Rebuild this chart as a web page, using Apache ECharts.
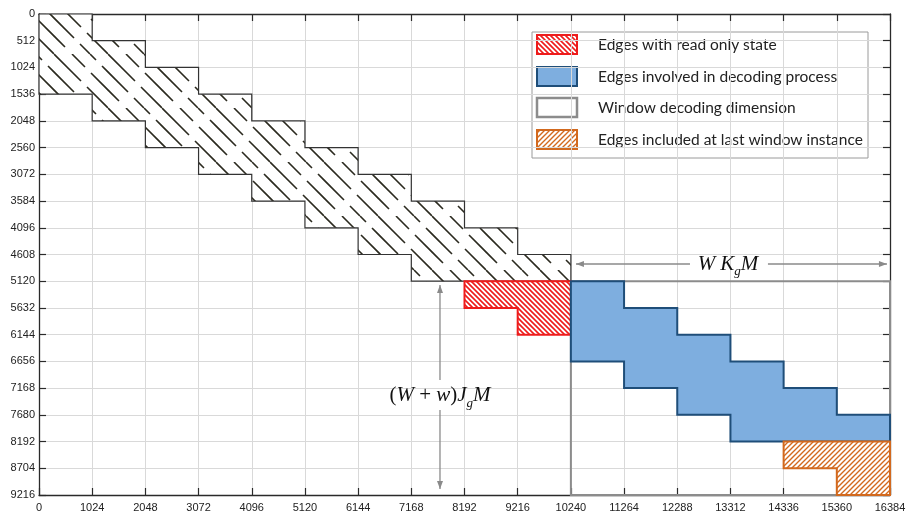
<!DOCTYPE html>
<html>
<head>
<meta charset="utf-8">
<script src="https://cdn.jsdelivr.net/npm/echarts@6/dist/echarts.min.js"></script>
<style>
  html, body { margin: 0; padding: 0; background: #fff; }
  #chart { width: 907px; height: 515px; }
</style>
</head>
<body>
<div id="chart"></div>
<script>
// Axis tick values
const xTicks = [0, 1024, 2048, 3072, 4096, 5120, 6144, 7168, 8192, 9216, 10240, 11264, 12288, 13312, 14336, 15360, 16384];
const yTicks = [0, 512, 1024, 1536, 2048, 2560, 3072, 3584, 4096, 4608, 5120, 5632, 6144, 6656, 7168, 7680, 8192, 8704, 9216];

// Each region is a staircase of 1024-wide columns: column index, top row, bottom row
const bandCols   = [0, 1, 2, 3, 4, 5, 6, 7, 8, 9];
const bandTop    = [0, 512, 1024, 1536, 2048, 2560, 3072, 3584, 4096, 4608];
const bandBottom = [1536, 2048, 2560, 3072, 3584, 4096, 4608, 5120, 5120, 5120];

const readOnlyCols   = [8, 9];
const readOnlyTop    = [5120, 5120];
const readOnlyBottom = [5632, 6144];

const decodeCols   = [10, 11, 12, 13, 14, 15];
const decodeTop    = [5120, 5632, 6144, 6656, 7168, 7680];
const decodeBottom = [6656, 7168, 7680, 8192, 8192, 8192];

const lastCols   = [14, 15];
const lastTop    = [8192, 8192];
const lastBottom = [8704, 9216];

// Window decoding dimension: [x0, x1], [y0, y1]
const windowX = [10240, 16384];
const windowY = [5120, 9216];

// Dimension arrows
const widthArrowY = 4790;
const widthArrowX = [10338, 12533, 14034, 16325];   // tip, gap start, gap end, tip
const widthLabelX = 13265;
const heightArrowX = 7720;
const heightArrowY = [5193, 7013, 7588, 9101];       // tip, gap start, gap end, tip
const heightLabelY = 7306;

const legendNames = [
  'Edges with read only state',
  'Edges involved in decoding process',
  'Window decoding dimension',
  'Edges included at last window instance'
];

const colW = xTicks[1] - xTicks[0];

// ---- fill patterns ----
function lineHatch(step, color, width, dir) {
  const c = document.createElement('canvas');
  c.width = step * 2; c.height = step * 2;
  const g = c.getContext('2d');
  g.fillStyle = '#fff';
  g.fillRect(0, 0, c.width, c.height);
  g.strokeStyle = color; g.lineWidth = width;
  const S = step * 2;
  g.beginPath();
  for (let k = -2; k <= 2; k++) {
    const o = k * step;
    if (dir === '\\') { g.moveTo(o - step, -step); g.lineTo(o + S + step, S + step); }
    else { g.moveTo(o - step, S + step); g.lineTo(o + S + step, -step); }
  }
  g.stroke();
  return c;
}

function dashedHatch() {
  const S = 54;
  const c = document.createElement('canvas');
  c.width = S; c.height = S;
  const g = c.getContext('2d');
  g.fillStyle = '#fff';
  g.fillRect(0, 0, S, S);
  g.strokeStyle = '#2b2a1f'; g.lineWidth = 1.6;
  const lines = [
    { off: 0,  dashes: [[0, 27], [33, 54]] },
    { off: 18, dashes: [[0, 13], [19, 47]] },
    { off: 36, dashes: [[0, 6], [12, 38], [44, 54]] }
  ];
  g.beginPath();
  lines.forEach(l => {
    l.dashes.forEach(([a, b]) => {
      [-S, 0, S].forEach(sh => {
        g.moveTo(l.off + a + sh, a);
        g.lineTo(l.off + b + sh, b);
      });
    });
  });
  g.stroke();
  return c;
}

const bandFill = { image: dashedHatch(), repeat: 'repeat' };
const redFill = { image: lineHatch(5, '#ee1c1c', 1.6, '\\'), repeat: 'repeat' };
const orangeFill = { image: lineHatch(5, '#d2691e', 1.4, '/'), repeat: 'repeat' };
const blueFill = '#7eaedf';

// ---- staircase polygons built from column data ----
function stairPoints(api, cols, top, bottom) {
  const pts = [];
  cols.forEach((c, i) => {
    pts.push(api.coord([c * colW, top[i]]));
    pts.push(api.coord([(c + 1) * colW, top[i]]));
  });
  for (let i = cols.length - 1; i >= 0; i--) {
    pts.push(api.coord([(cols[i] + 1) * colW, bottom[i]]));
    pts.push(api.coord([cols[i] * colW, bottom[i]]));
  }
  return pts;
}

function stairSeries(name, cols, top, bottom, style, z) {
  return {
    name, type: 'custom', coordinateSystem: 'cartesian2d', z,
    silent: true, clip: false,
    data: [[cols[0] * colW, top[0]]],
    renderItem: (params, api) => ({
      type: 'polygon',
      shape: { points: stairPoints(api, cols, top, bottom) },
      style
    })
  };
}

// ---- math labels ----
const measureCtx = document.createElement('canvas').getContext('2d');
function mathLabel(cx, cy, parts, size) {
  const subSize = Math.round(size * 0.62);
  const items = parts.map(p => {
    const fs = p.sub ? subSize : size;
    const font = (p.it ? 'italic ' : '') + fs + 'px "Liberation Serif"';
    measureCtx.font = font;
    return { p, fs, font, w: measureCtx.measureText(p.t).width + (p.gap || 0) };
  });
  const total = items.reduce((s, it) => s + it.w, 0);
  let x = cx - total / 2;
  return items.map(it => {
    const el = {
      type: 'text',
      x, y: cy + (it.p.sub ? size * 0.38 : 0),
      style: {
        text: it.p.t, fill: '#111', fontSize: it.fs,
        fontFamily: 'Liberation Serif', fontStyle: it.p.it ? 'italic' : 'normal',
        verticalAlign: 'middle', align: 'left'
      }
    };
    x += it.w;
    return el;
  });
}

function arrowHead(tip, dirX, dirY) {
  const L = 8, H = 3;
  const bx = tip[0] - dirX * L, by = tip[1] - dirY * L;
  return {
    type: 'polygon',
    shape: { points: [tip, [bx - dirY * H, by + dirX * H], [bx + dirY * H, by - dirX * H]] },
    style: { fill: '#8a8a8a' }
  };
}

const annotationSeries = {
  name: 'dimensions', type: 'custom', coordinateSystem: 'cartesian2d', z: 10,
  silent: true, clip: false,
  data: [[widthLabelX, widthArrowY]],
  renderItem: (params, api) => {
    const line = { stroke: '#8a8a8a', lineWidth: 1.3 };
    const h = widthArrowX.map(v => api.coord([v, widthArrowY]));
    const v = heightArrowY.map(y => api.coord([heightArrowX, y]));
    const wl = api.coord([widthLabelX, widthArrowY]);
    const hl = api.coord([heightArrowX, heightLabelY]);
    return {
      type: 'group',
      children: [
        { type: 'line', shape: { x1: h[0][0], y1: h[0][1], x2: h[1][0], y2: h[1][1] }, style: line },
        { type: 'line', shape: { x1: h[2][0], y1: h[2][1], x2: h[3][0], y2: h[3][1] }, style: line },
        arrowHead(h[0], -1, 0), arrowHead(h[3], 1, 0),
        { type: 'line', shape: { x1: v[0][0], y1: v[0][1], x2: v[1][0], y2: v[1][1] }, style: line },
        { type: 'line', shape: { x1: v[2][0], y1: v[2][1], x2: v[3][0], y2: v[3][1] }, style: line },
        arrowHead(v[0], 0, -1), arrowHead(v[3], 0, 1),
        ...mathLabel(wl[0], wl[1], [
          { t: 'W', it: true, gap: 5 }, { t: 'K', it: true }, { t: 'g', it: true, sub: true }, { t: 'M', it: true }
        ], 21),
        ...mathLabel(hl[0], hl[1], [
          { t: '(' }, { t: 'W', it: true }, { t: ' + ' }, { t: 'w', it: true }, { t: ')' },
          { t: 'J', it: true }, { t: 'g', it: true, sub: true }, { t: 'M', it: true }
        ], 21)
      ]
    };
  }
};

const windowSeries = {
  name: legendNames[2], type: 'custom', coordinateSystem: 'cartesian2d', z: 3,
  silent: true, clip: false,
  data: [[windowX[0], windowY[0]]],
  renderItem: (params, api) => {
    const a = api.coord([windowX[0], windowY[0]]);
    const b = api.coord([windowX[1], windowY[1]]);
    return {
      type: 'rect',
      shape: { x: a[0], y: a[1], width: b[0] - a[0], height: b[1] - a[1] },
      style: { fill: 'none', stroke: '#8c8c8c', lineWidth: 2 }
    };
  }
};

// ---- axes ----
const axisColor = '#2a2a2a';
const plainNumber = v => String(v);
function xAxisDef(pos, labels) {
  return {
    type: 'value', position: pos,
    min: xTicks[0], max: xTicks[xTicks.length - 1], interval: colW,
    axisLine: { show: true, onZero: false, lineStyle: { color: axisColor, width: 1.3 } },
    axisTick: { show: true, inside: true, length: 7, lineStyle: { color: axisColor, width: 1.2 } },
    axisLabel: { show: labels, color: '#222', fontSize: 11, fontFamily: 'Liberation Sans', margin: 7, formatter: plainNumber },
    splitLine: { show: labels, lineStyle: { color: '#d9d9d9', width: 1 } }
  };
}
function yAxisDef(pos, labels) {
  return {
    type: 'value', position: pos, inverse: true,
    min: yTicks[0], max: yTicks[yTicks.length - 1], interval: yTicks[1] - yTicks[0],
    axisLine: { show: true, onZero: false, lineStyle: { color: axisColor, width: 1.3 } },
    axisTick: { show: true, inside: true, length: 7, lineStyle: { color: axisColor, width: 1.2 } },
    axisLabel: { show: labels, color: '#222', fontSize: 11, fontFamily: 'Liberation Sans', margin: 4, formatter: plainNumber },
    splitLine: { show: labels, lineStyle: { color: '#d9d9d9', width: 1 } }
  };
}

// ---- legend drawn as graphics ----
const legendRowY = [35, 67, 98, 130];
const legendSwatch = [
  { fill: redFill, stroke: '#ee1c1c', lineWidth: 2 },
  { fill: blueFill, stroke: '#1f4e79', lineWidth: 2 },
  { fill: '#fff', stroke: '#8c8c8c', lineWidth: 2.5 },
  { fill: orangeFill, stroke: '#d2691e', lineWidth: 2 }
];
const legendChildren = [
  { type: 'rect', shape: { x: 532, y: 32, width: 336, height: 126 },
    style: { fill: '#fff', stroke: '#9a9a9a', lineWidth: 1 } }
];
legendNames.forEach((name, i) => {
  legendChildren.push({
    type: 'rect', shape: { x: 537, y: legendRowY[i], width: 40, height: 19 },
    style: legendSwatch[i]
  });
  legendChildren.push({
    type: 'text', x: 598, y: legendRowY[i] + 10,
    style: { text: name, fill: '#222', fontSize: 15.5, fontFamily: 'Lato', verticalAlign: 'middle' }
  });
});

const chart = echarts.init(document.getElementById('chart'), null, { renderer: 'canvas' });
chart.setOption({
  animation: false,
  backgroundColor: '#fff',
  grid: { left: 39, right: 17, top: 14, bottom: 20, containLabel: false, outerBoundsMode: 'none' },
  xAxis: [xAxisDef('bottom', true), xAxisDef('top', false)],
  yAxis: [yAxisDef('left', true), yAxisDef('right', false)],
  series: [
    stairSeries('Band', bandCols, bandTop, bandBottom,
      { fill: bandFill, stroke: '#333', lineWidth: 1.2 }, 2),
    windowSeries,
    stairSeries(legendNames[0], readOnlyCols, readOnlyTop, readOnlyBottom,
      { fill: redFill, stroke: '#ee1c1c', lineWidth: 2 }, 4),
    stairSeries(legendNames[1], decodeCols, decodeTop, decodeBottom,
      { fill: blueFill, stroke: '#1f4e79', lineWidth: 2 }, 4),
    stairSeries(legendNames[3], lastCols, lastTop, lastBottom,
      { fill: orangeFill, stroke: '#d2691e', lineWidth: 2 }, 4),
    annotationSeries
  ],
  graphic: [{ type: 'group', z: 100, children: legendChildren }]
});
</script>
</body>
</html>
